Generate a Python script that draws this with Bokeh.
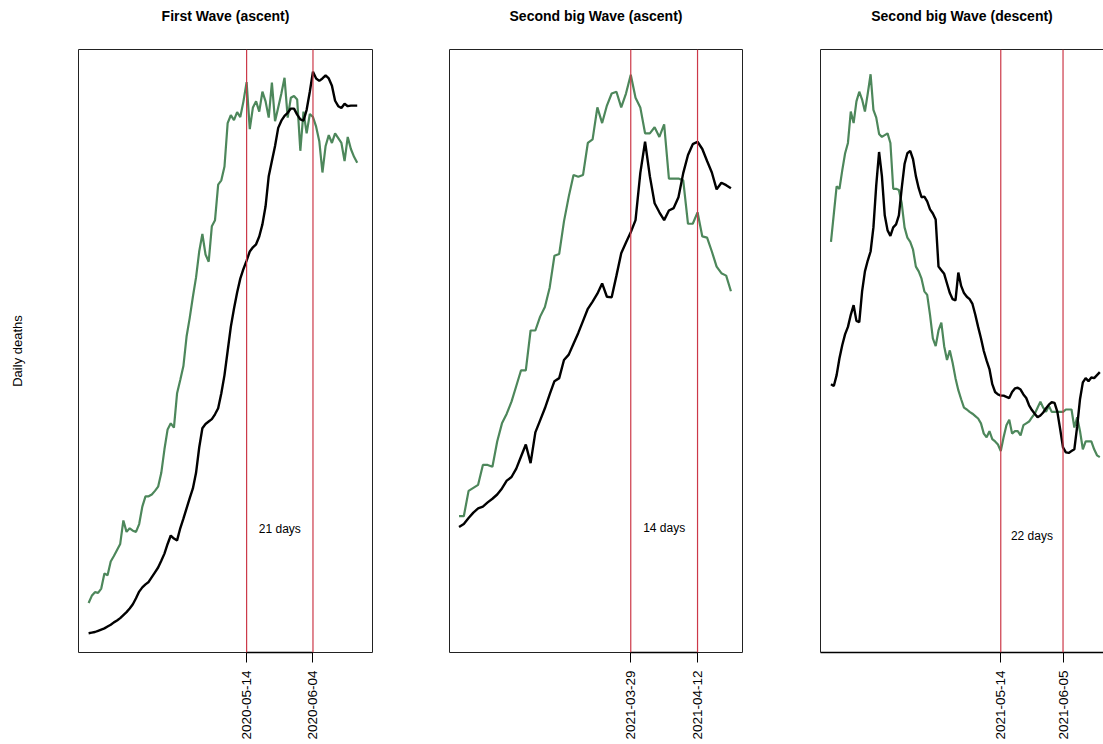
import pandas as pd
from bokeh.plotting import figure
from bokeh.layouts import row
from bokeh.models import Span, Label, FixedTicker, DatetimeTickFormatter, LinearAxis, Range1d
from bokeh.embed import file_html
from bokeh.resources import INLINE

# ---------------- data ----------------
titles = ["First Wave (ascent)", "Second big Wave (ascent)", "Second big Wave (descent)"]
start_dates = ["2020-03-25", "2021-02-21", "2021-03-15"]
marker_dates = [["2020-05-14", "2020-06-04"],
                ["2021-03-29", "2021-04-12"],
                ["2021-05-14", "2021-06-05"]]
lag_labels = ["21 days", "14 days", "22 days"]
lag_label_y = [205, 206, 194]

# black: daily deaths (relative scale), green: lead series (relative scale)
deaths_1 = [32, 33, 34, 36, 38, 40, 43, 46, 50, 53, 57, 62, 67, 73, 80, 90, 101, 108, 113, 117,
            125, 133, 141, 152, 164, 180, 194, 189, 186, 206, 222, 239, 256, 272, 298, 340, 372, 379, 383, 387,
            395, 405, 430, 460, 500, 540, 570, 597, 620, 636, 650, 665, 672, 677, 690, 710, 740, 790, 815, 840,
            870, 882, 890, 895, 902, 902, 892, 884, 882, 900, 930, 963, 952, 948, 952, 957, 952, 940, 915, 906,
            903, 910, 906, 907, 907, 907]
cases_1 = [82, 94, 100, 99, 106, 131, 128, 151, 160, 170, 180, 219, 200, 206, 202, 200, 213, 242, 259, 259,
           262, 268, 275, 298, 337, 370, 380, 373, 430, 452, 475, 524, 555, 590, 622, 665, 694, 660, 648, 707,
           717, 776, 783, 806, 878, 891, 883, 896, 888, 914, 946, 868, 904, 914, 897, 930, 914, 887, 945, 881,
           904, 927, 953, 887, 920, 923, 917, 832, 897, 861, 893, 888, 872, 848, 796, 840, 858, 845, 861, 853,
           845, 815, 855, 835, 822, 812]

deaths_2 = [208, 213, 223, 232, 239, 242, 249, 255, 262, 272, 285, 291, 305, 325, 345, 314, 365, 385, 405, 428,
            450, 455, 485, 494, 512, 530, 550, 570, 582, 595, 612, 590, 589, 625, 662, 680, 697, 717, 795, 847,
            790, 745, 730, 717, 733, 737, 755, 795, 825, 843, 847, 835, 815, 796, 768, 779, 775, 770]
cases_2 = [226, 226, 268, 273, 278, 311, 311, 308, 350, 380, 396, 416, 442, 468, 468, 534, 534, 557, 573, 605,
           658, 661, 715, 756, 792, 789, 792, 845, 851, 904, 878, 907, 927, 930, 904, 927, 958, 920, 904, 861,
           861, 871, 855, 876, 786, 786, 786, 783, 711, 711, 730, 690, 688, 665, 640, 629, 625, 599]

deaths_3 = [445, 442, 460, 488, 510, 528, 540, 560, 576, 550, 548, 599, 632, 650, 665, 705, 775, 830, 790, 725,
            700, 691, 705, 710, 725, 770, 810, 828, 832, 818, 790, 770, 755, 756, 748, 735, 728, 718, 640, 634,
            628, 612, 596, 586, 584, 630, 608, 596, 590, 586, 578, 560, 540, 521, 500, 484, 470, 445, 432, 428,
            426, 426, 424, 422, 432, 438, 439, 436, 428, 422, 410, 402, 396, 390, 393, 398, 405, 411, 415, 414,
            399, 370, 340, 332, 331, 334, 337, 375, 420, 448, 455, 450, 456, 455, 460, 465]
cases_3 = [681, 727, 773, 769, 800, 828, 845, 897, 878, 914, 930, 917, 897, 927, 959, 900, 887, 860, 855, 858,
           861, 845, 769, 769, 767, 745, 705, 688, 681, 668, 640, 632, 620, 599, 593, 560, 521, 508, 534, 547,
           508, 485, 501, 480, 455, 435, 420, 406, 403, 399, 396, 392, 388, 380, 363, 357, 367, 354, 350, 345,
           334, 357, 377, 386, 363, 367, 367, 360, 377, 380, 383, 390, 396, 406, 416, 406, 399, 409, 399, 399,
           399, 399, 399, 403, 403, 403, 373, 390, 367, 337, 350, 350, 350, 337, 327, 324]

deaths = [deaths_1, deaths_2, deaths_3]
cases = [cases_1, cases_2, cases_3]

# ---------------- layout / style ----------------
GREEN = "#4d875b"
RED = "#cc3848"
FONT = "Liberation Sans"

frame_w = [294, 293, 283]
border_l = [78, 49, 49]
border_r = [28, 29, 0]
FRAME_H = 603
lead_days = [3.2, 2.0, 3.7]      # padding before first day
px_per_day = [3.16, 4.77, 2.83]  # horizontal scale of each panel

DAY_MS = 86400000.0


def make_panel(i):
    dates = pd.date_range(start_dates[i], periods=len(deaths[i]), freq="D")
    t0 = dates[0].value / 1e6
    xs = t0 - lead_days[i] * DAY_MS
    xe = xs + frame_w[i] / px_per_day[i] * DAY_MS

    p = figure(x_axis_type="datetime", output_backend="svg", toolbar_location=None,
               frame_width=frame_w[i], frame_height=FRAME_H,
               min_border_left=border_l[i], min_border_right=border_r[i],
               min_border_top=48, min_border_bottom=90,
               x_range=Range1d(xs, xe), y_range=Range1d(0, 1000),
               background_fill_color="white", border_fill_color="white")
    xa = p.below[0]
    ya = p.left[0]

    # invisible spacer axis on top (keeps the title away from the frame);
    # on the last panel its line also closes the box at the top
    top = LinearAxis(ticker=FixedTicker(ticks=[]), major_label_text_font_size="0px",
                     major_tick_line_color=None, minor_tick_line_color=None,
                     major_tick_out=0, major_tick_in=0, major_label_standoff=0,
                     axis_label="x", axis_label_text_alpha=0.0,
                     axis_label_text_font_size="12px", axis_label_standoff=4,
                     axis_line_color="#222222" if i == 2 else None)
    p.add_layout(top, "above")

    p.title.text = titles[i]
    p.title.align = "center"
    p.title.text_font = FONT
    p.title.text_font_style = "bold"
    p.title.text_font_size = "14px"
    p.title.text_color = "black"
    p.title.standoff = 10

    p.grid.visible = False

    tick_ms = [pd.Timestamp(d).value / 1e6 for d in marker_dates[i]]
    xa.ticker = FixedTicker(ticks=tick_ms)
    fmt = "%Y-%m-%d"
    xa.formatter = DatetimeTickFormatter(milliseconds=fmt, seconds=fmt, minsec=fmt, minutes=fmt,
                                         hourmin=fmt, hours=fmt, days=fmt, months=fmt, years=fmt)
    xa.major_label_orientation = 3.14159265 / 2
    xa.major_label_text_font = FONT
    xa.major_label_text_font_size = "13.5px"
    xa.major_label_text_color = "black"
    xa.major_label_standoff = 8
    xa.major_tick_in = 0
    xa.major_tick_out = 10
    xa.major_tick_line_color = "black"
    xa.minor_tick_line_color = None
    xa.axis_line_color = "black"
    xa.axis_line_width = 1.5

    ya.ticker = FixedTicker(ticks=[])
    ya.major_label_text_font_size = "0px"
    ya.major_tick_line_color = None
    ya.minor_tick_line_color = None
    if i == 0:
        ya.axis_label = "Daily deaths"
        ya.axis_label_text_font = FONT
        ya.axis_label_text_font_size = "13px"
        ya.axis_label_text_font_style = "normal"
        ya.axis_label_text_color = "black"
        ya.axis_label_standoff = 54

    if i < 2:
        p.outline_line_color = "#222222"
        p.outline_line_width = 1
        xa.bounds = (tick_ms[0], tick_ms[1])
        ya.axis_line_color = None
    else:
        p.outline_line_color = None
        ya.axis_line_color = "#222222"

    for d in marker_dates[i]:
        p.add_layout(Span(location=pd.Timestamp(d).value / 1e6, dimension="height",
                          line_color=RED, line_width=1.2))

    mid = (tick_ms[0] + tick_ms[1]) / 2
    p.add_layout(Label(x=mid, y=lag_label_y[i], text=lag_labels[i], text_align="center",
                       text_baseline="middle", text_font=FONT, text_font_size="12px",
                       text_color="black"))

    p.line(dates, cases[i], line_color=GREEN, line_width=2.2)
    p.line(dates, deaths[i], line_color="black", line_width=2.4)
    return p


panels = [make_panel(i) for i in range(3)]
layout = row(*panels, spacing=0)

open("out.html", "w").write(file_html(layout, INLINE))
